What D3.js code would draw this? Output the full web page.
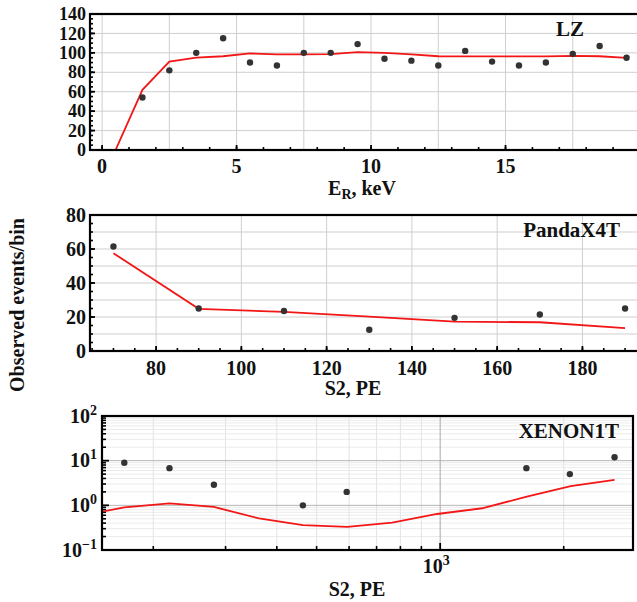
<!DOCTYPE html>
<html>
<head>
<meta charset="utf-8">
<script src="https://cdn.jsdelivr.net/npm/d3@7"></script>
<style>
  html, body { margin: 0; padding: 0; background: #fff; }
  svg { display: block; }
  text { font-family: "Liberation Serif", "DejaVu Serif", serif; font-weight: bold; fill: #111; }
</style>
</head>
<body>
<div id="chart"></div>
<script>
// LZ panel
const lzEnergy = [1.5, 2.5, 3.5, 4.5, 5.5, 6.5, 7.5, 8.5, 9.5, 10.5, 11.5, 12.5, 13.5, 14.5, 15.5, 16.5, 17.5, 18.5, 19.5]
const lzObserved = [54, 82, 100, 115, 90, 87, 100, 100, 109, 94, 92, 87, 102, 91, 87, 90, 99, 107, 95]
const lzModelEnergy = [0.5, 1.5, 2.5, 3.5, 4.5, 5.5, 6.5, 7.5, 8.5, 9.5, 10.5, 11.5, 12.5, 13.5, 14.5, 15.5, 16.5, 17.5, 18.5, 19.5]
const lzModel = [0, 62, 91, 95, 96.5, 99.4, 98.4, 98.4, 98.6, 100.7, 100, 98.5, 96.5, 96.3, 96.3, 96.3, 96.3, 96.9, 96.5, 94.9]
const lzXTicks = [0, 5, 10, 15]
const lzYTicks = [0, 20, 40, 60, 80, 100, 120, 140]

// PandaX-4T panel
const pandaS2 = [70, 90, 110, 130, 150, 170, 190]
const pandaObserved = [61.5, 25, 23.5, 12.5, 19.5, 21.5, 25]
const pandaModel = [57.5, 24.8, 23, 20.2, 17.3, 16.9, 13.4]
const pandaXTicks = [80, 100, 120, 140, 160, 180]
const pandaYTicks = [0, 20, 40, 60, 80]

// XENON1T panel
const xenonS2 = [170, 219, 281, 463, 592, 1622, 2070, 2660]
const xenonObserved = [9.0, 6.8, 2.9, 1.0, 2.0, 6.8, 5.0, 11.9]
const xenonModelS2 = [150, 170, 219, 281, 362, 463, 594, 764, 983, 1265, 1626, 2080, 2660]
const xenonModel = [0.72, 0.90, 1.11, 0.92, 0.51, 0.36, 0.33, 0.41, 0.64, 0.86, 1.56, 2.7, 3.7]
const xenonYTicks = [-1, 0, 1, 2]
const xenonXMinor = [200, 300, 400, 500, 600, 700, 800, 900, 2000]

const width = 637
const height = 602

const svg = d3.select("#chart")
  .append("svg")
  .attr("width", width)
  .attr("height", height)

const defs = svg.append("defs")

function panel(cfg){
  const g = svg.append("g")
  const [x0, x1] = cfg.x.range()
  const [yb, yt] = cfg.y.range()

  defs.append("clipPath").attr("id", cfg.id)
    .append("rect")
    .attr("x", x0).attr("y", yt)
    .attr("width", x1 - x0).attr("height", yb - yt)

  // grid
  cfg.grid(g)

  // ticks (inward)
  cfg.ticks(g)

  // model line
  const line = d3.line()
    .x(d => cfg.x(d[0]))
    .y(d => cfg.y(d[1]))
  g.append("path")
    .datum(d3.zip(cfg.modelX, cfg.modelY))
    .attr("clip-path", `url(#${cfg.id})`)
    .attr("fill", "none")
    .attr("stroke", "#f21616")
    .attr("stroke-width", 1.8)
    .attr("d", line)

  // observed points
  g.append("g")
    .selectAll("circle")
    .data(d3.zip(cfg.obsX, cfg.obsY))
    .join("circle")
      .attr("cx", d => cfg.x(d[0]))
      .attr("cy", d => cfg.y(d[1]))
      .attr("r", 3.2)
      .attr("fill", "#333")

  // frame
  g.append("rect")
    .attr("x", x0).attr("y", yt)
    .attr("width", x1 - x0).attr("height", yb - yt)
    .attr("fill", "none")
    .attr("stroke", "#000")
    .attr("stroke-width", 2.2)

  // experiment label
  g.append("text")
    .attr("x", cfg.labelX)
    .attr("y", yt + 22)
    .attr("text-anchor", "end")
    .style("font-size", "21px")
    .text(cfg.label)

  return g
}

function linearGrid(g, x, y, xs, ys){
  const [x0, x1] = x.range()
  const [yb, yt] = y.range()
  g.append("g").selectAll("line")
    .data(xs).join("line")
      .attr("x1", d => x(d)).attr("x2", d => x(d))
      .attr("y1", yb).attr("y2", yt)
      .attr("stroke", "#cfcfcf").attr("stroke-width", 1)
  g.append("g").selectAll("line")
    .data(ys).join("line")
      .attr("x1", x0).attr("x2", x1)
      .attr("y1", d => y(d)).attr("y2", d => y(d))
      .attr("stroke", "#cfcfcf").attr("stroke-width", 1)
}

function tickMarks(g, x, y, xMajor, xMinor, yMajor, yMinor, majorLen, minorLen){
  const [x0] = x.range()
  const [yb] = y.range()
  const xt = g.append("g")
  xt.selectAll(".mi").data(xMinor).join("line")
    .attr("x1", d => x(d)).attr("x2", d => x(d))
    .attr("y1", yb).attr("y2", yb - minorLen)
    .attr("stroke", "#000").attr("stroke-width", 1.6)
  xt.selectAll(".ma").data(xMajor).join("line")
    .attr("x1", d => x(d)).attr("x2", d => x(d))
    .attr("y1", yb).attr("y2", yb - majorLen)
    .attr("stroke", "#000").attr("stroke-width", 1.8)
  const yt = g.append("g")
  yt.selectAll(".mi").data(yMinor).join("line")
    .attr("x1", x0).attr("x2", x0 + minorLen)
    .attr("y1", d => y(d)).attr("y2", d => y(d))
    .attr("stroke", "#000").attr("stroke-width", 1.6)
  yt.selectAll(".ma").data(yMajor).join("line")
    .attr("x1", x0).attr("x2", x0 + majorLen)
    .attr("y1", d => y(d)).attr("y2", d => y(d))
    .attr("stroke", "#000").attr("stroke-width", 1.8)
}

// ---------- LZ ----------
const xLZ = d3.scaleLinear().domain([-0.45, 20.0]).range([90, 640])
const yLZ = d3.scaleLinear().domain([0, 140]).range([150, 14])

const gLZ = panel({
  id: "clipLZ", x: xLZ, y: yLZ,
  modelX: lzModelEnergy, modelY: lzModel,
  obsX: lzEnergy, obsY: lzObserved,
  label: "LZ", labelX: 584,
  grid: g => linearGrid(g, xLZ, yLZ, d3.range(0, 20, 2.5), lzYTicks.slice(1, -1)),
  ticks: g => tickMarks(g, xLZ, yLZ, lzXTicks, d3.range(0, 20, 1), lzYTicks, d3.range(0, 140, 5), 5, 3)
})

// labels packed tightly, like the source figure
gLZ.append("g").selectAll("text")
  .data(lzYTicks).join("text")
    .attr("x", 86).attr("y", d => yLZ(d)).attr("dy", "0.34em")
    .attr("text-anchor", "end").style("font-size", "18px")
    .text(d => d)
gLZ.append("g").selectAll("text")
  .data(lzXTicks).join("text")
    .attr("x", d => xLZ(d)).attr("y", 173)
    .attr("text-anchor", "middle").style("font-size", "20px")
    .text(d => d)
const tLZ = gLZ.append("text")
  .attr("x", 362).attr("y", 195)
  .attr("text-anchor", "middle").style("font-size", "20px")
tLZ.append("tspan").text("E")
tLZ.append("tspan").attr("dy", 4).style("font-size", "14px").text("R")
tLZ.append("tspan").attr("dy", -4).text(", keV")

// ---------- PandaX-4T ----------
const xPX = d3.scaleLinear().domain([64.5, 193.5]).range([90, 640])
const yPX = d3.scaleLinear().domain([0, 80]).range([351, 215])

const gPX = panel({
  id: "clipPX", x: xPX, y: yPX,
  modelX: pandaS2, modelY: pandaModel,
  obsX: pandaS2, obsY: pandaObserved,
  label: "PandaX4T", labelX: 620,
  grid: g => linearGrid(g, xPX, yPX, pandaXTicks, d3.range(10, 80, 10)),
  ticks: g => tickMarks(g, xPX, yPX, pandaXTicks, d3.range(65, 195, 5), pandaYTicks, d3.range(0, 80, 5), 5, 3)
})

gPX.append("g").selectAll("text")
  .data(pandaYTicks).join("text")
    .attr("x", 86).attr("y", d => yPX(d)).attr("dy", "0.34em")
    .attr("text-anchor", "end").style("font-size", "20px")
    .text(d => d)
gPX.append("g").selectAll("text")
  .data(pandaXTicks).join("text")
    .attr("x", d => xPX(d)).attr("y", 375)
    .attr("text-anchor", "middle").style("font-size", "20px")
    .text(d => d)
gPX.append("text")
  .attr("x", 353).attr("y", 395)
  .attr("text-anchor", "middle").style("font-size", "20px")
  .text("S2, PE")

// ---------- XENON1T ----------
const xXE = d3.scaleLog().domain([150, 2950]).range([102, 633])
const yXE = d3.scaleLog().domain([0.1, 100]).range([550, 416])

const yMinorXE = [0.1, 1, 10].flatMap(b => d3.range(2, 10).map(k => b * k))

const gXE = panel({
  id: "clipXE", x: xXE, y: yXE,
  modelX: xenonModelS2, modelY: xenonModel,
  obsX: xenonS2, obsY: xenonObserved,
  label: "XENON1T", labelX: 619,
  grid: g => {
    const [x0, x1] = xXE.range()
    const [yb, yt] = yXE.range()
    g.append("g").selectAll("line")
      .data(yMinorXE).join("line")
        .attr("x1", x0).attr("x2", x1)
        .attr("y1", d => yXE(d)).attr("y2", d => yXE(d))
        .attr("stroke", "#ebebeb")
    g.append("g").selectAll("line")
      .data(xenonXMinor).join("line")
        .attr("x1", d => xXE(d)).attr("x2", d => xXE(d))
        .attr("y1", yb).attr("y2", yt)
        .attr("stroke", "#e3e3e3")
    g.append("g").selectAll("line")
      .data([1, 10]).join("line")
        .attr("x1", x0).attr("x2", x1)
        .attr("y1", d => yXE(d)).attr("y2", d => yXE(d))
        .attr("stroke", "#b5b5b5")
    g.append("line")
      .attr("x1", xXE(1000)).attr("x2", xXE(1000))
      .attr("y1", yb).attr("y2", yt)
      .attr("stroke", "#a8a8a8")
  },
  ticks: g => tickMarks(g, xXE, yXE, [1000], xenonXMinor, xenonYTicks.map(e => Math.pow(10, e)), yMinorXE, 7, 4)
})

const yLab = gXE.append("g").selectAll("text")
  .data(xenonYTicks).join("text")
    .attr("x", 97).attr("y", d => yXE(Math.pow(10, d))).attr("dy", "0.34em")
    .attr("text-anchor", "end").style("font-size", "20px")
yLab.append("tspan").text("10")
yLab.append("tspan").attr("dy", -8).style("font-size", "14px").text(d => d < 0 ? "\u22121" : d)

const xLab = gXE.append("text")
  .attr("x", xXE(1000) - 4).attr("y", 573)
  .attr("text-anchor", "middle").style("font-size", "20px")
xLab.append("tspan").text("10")
xLab.append("tspan").attr("dy", -8).style("font-size", "14px").text("3")

gXE.append("text")
  .attr("x", 357).attr("y", 596)
  .attr("text-anchor", "middle").style("font-size", "20px")
  .text("S2, PE")

// shared y title
svg.append("text")
  .attr("transform", "translate(24,305) rotate(-90)")
  .attr("text-anchor", "middle")
  .style("font-size", "20px")
  .text("Observed events/bin")
</script>
</body>
</html>
